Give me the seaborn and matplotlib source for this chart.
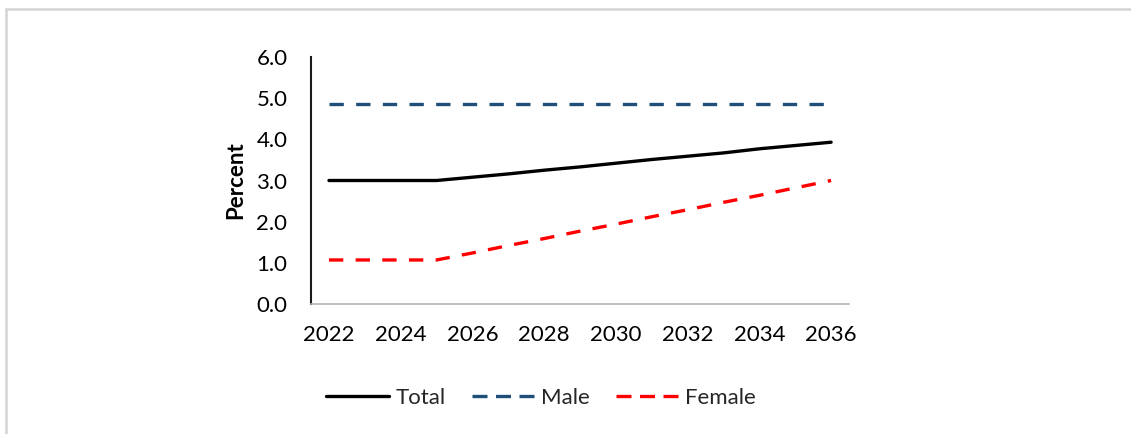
import matplotlib
matplotlib.use("Agg")
import matplotlib.pyplot as plt
import seaborn as sns
import pandas as pd
from matplotlib.patches import Rectangle

years = list(range(2022, 2037))
total = [3.0, 3.0, 3.0, 3.0, 3.08, 3.16, 3.25, 3.33, 3.42, 3.51, 3.59, 3.67, 3.77, 3.85, 3.93]
male = [4.85] * 15
female = [1.07, 1.07, 1.07, 1.07, 1.24, 1.42, 1.59, 1.77, 1.94, 2.12, 2.29, 2.47, 2.64, 2.82, 3.0]
series_names = ["Total", "Male", "Female"]
y_ticks = [0, 1, 2, 3, 4, 5, 6]
x_ticks = list(range(2022, 2037, 2))

df = pd.concat([
    pd.DataFrame({"Year": years, "Percent": vals, "Series": name})
    for name, vals in zip(series_names, [total, male, female])
])

sns.set_theme(style="white")
plt.rcParams["font.family"] = ["Lato", "DejaVu Sans"]

fs = 16

fig = plt.figure(figsize=(11.31, 4.34), dpi=100)
ax = fig.add_axes([0.275, 0.2995, 0.4757, 0.5692])

palette = {"Total": "#000000", "Male": "#1f4e79", "Female": "#ff0000"}
dashes = {"Total": "", "Male": (4.3, 3.7), "Female": (4.3, 3.7)}
sns.lineplot(data=df, x="Year", y="Percent", hue="Series", style="Series",
             palette=palette, dashes=dashes, linewidth=2.4, ax=ax, legend=False)

ax.set_xlim(2021.5, 2036.5)
ax.set_ylim(0, 6)
ax.set_yticks(y_ticks)
ax.set_yticklabels([f"{v:.1f}" for v in y_ticks])
ax.set_xticks(x_ticks)
ax.set_xticklabels([str(x) for x in x_ticks])
ax.tick_params(axis="both", length=0, labelsize=fs, colors="#000000")
ax.tick_params(axis="y", pad=17)
ax.tick_params(axis="x", pad=15)
ax.set_xlabel("")
ax.set_ylabel("Percent", fontsize=fs, fontweight="bold", labelpad=7, color="#000000")

for side in ["top", "right"]:
    ax.spines[side].set_visible(False)
ax.spines["left"].set_color("#1a1a1a")
ax.spines["left"].set_linewidth(1.5)
ax.spines["bottom"].set_color("#b3b3b3")
ax.spines["bottom"].set_linewidth(1.2)

legend_dash = (0, (4.5, 2.55))
handles = [
    plt.Line2D([], [], color=palette[n], lw=2.4,
               linestyle="-" if n == "Total" else legend_dash)
    for n in series_names
]
fig.legend(handles, series_names, loc="center", bbox_to_anchor=(0.4785, 0.083),
           ncol=3, frameon=False, fontsize=fs, handlelength=2.8,
           handletextpad=0.3, columnspacing=1.2)

# light outer frame
fig.patches.append(Rectangle((6 / 1131, -0.05), 1.1, 1 - 9 / 434 + 0.05,
                             transform=fig.transFigure, fill=False,
                             edgecolor="#d4d4d4", linewidth=1.8))

fig.savefig("out.png", dpi=100)
